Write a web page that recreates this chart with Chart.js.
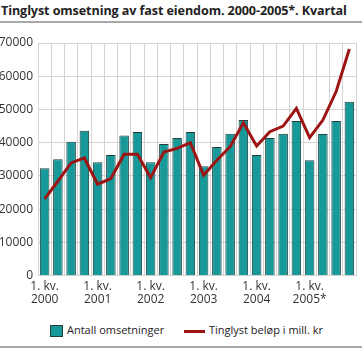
<!DOCTYPE html>
<html>
<head>
<meta charset="utf-8">
<script src="https://cdn.jsdelivr.net/npm/chart.js@4/dist/chart.umd.min.js"></script>
<style>
  body { margin: 0; width: 362px; height: 351px; background: #fff; font-family: "Open Sans", sans-serif; color: #222; overflow: hidden; }
  #title { position: absolute; left: 1px; top: 2px; font-weight: bold; font-size: 12.6px; white-space: nowrap; letter-spacing: -0.1px; }
  .rule { position: absolute; left: 0; width: 362px; height: 2px; background: #a8a8a8; }
  #chart { position: absolute; left: -4px; top: 26px; }
  #legend { position: absolute; top: 322px; left: 0; width: 362px; font-size: 11px; color: #222; }
  .item { position: absolute; top: 0; white-space: nowrap; }
  .box { position: absolute; top: 3px; width: 13px; height: 12px; background: #17999a; border: 1px solid #1f3f3f; box-sizing: border-box; }
  .ln { position: absolute; top: 8px; width: 21px; height: 3px; background: #9c1414; }
</style>
</head>
<body>
<div id="title">Tinglyst omsetning av fast eiendom. 2000-2005*. Kvartal</div>
<div class="rule" style="top:21px"></div>
<canvas id="chart" width="366" height="286"></canvas>
<div id="legend">
  <div class="item" style="left:50px"><span class="box"></span><span style="position:absolute;left:17px">Antall omsetninger</span></div>
  <div class="item" style="left:184px"><span class="ln"></span><span style="position:absolute;left:25px">Tinglyst beløp i mill. kr</span></div>
</div>
<div class="rule" style="top:346px"></div>
<script>
const years = ["2000", "2001", "2002", "2003", "2004", "2005*"];
const quarters = [1, 2, 3, 4];
const antallOmsetninger = [32300, 35000, 40300, 43600, 34100, 36300, 42200, 43200, 34100, 39600, 41400, 43200,
    32900, 38700, 42700, 46800, 36300, 41400, 42700, 46500, 34700, 42600, 46500, 52300];
const tinglystBelop = [23100, 28400, 33900, 35400, 27500, 29200, 36500, 36500, 29500, 37200, 38300, 40000,
    30200, 34700, 38800, 46000, 39000, 43300, 45000, 50300, 41500, 46800, 55400, 68200];
const yTicks = [0, 10000, 20000, 30000, 40000, 50000, 60000, 70000];

let labels = [];
years.forEach((y) => {
    quarters.forEach((q) => {
        labels.push(q + ". kv. " + y);
    });
});

const gridColor = "#d4d4d4";
const tickFont = { family: "Open Sans", size: 12, lineHeight: 1.1 };

function xLabel(index) {
    if (index % 4 === 0) {
        return ["1. kv.", years[index / 4]];
    }
    return "";
}

// year labels placed under the bars the chart actually drew
const xLabelPlugin = {
    id: "xLabels",
    afterDraw(chart) {
        const x = chart.scales.x;
        const bars = chart.getDatasetMeta(1).data;
        const ctx = chart.ctx;
        ctx.save();
        ctx.font = "12px 'Open Sans'";
        ctx.fillStyle = "#333";
        ctx.textAlign = "center";
        ctx.textBaseline = "top";
        bars.forEach((bar, i) => {
            const lines = xLabel(i);
            if (!lines) return;
            lines.forEach((t, j) => {
                ctx.fillText(t, bar.x, x.top + 5 + j * 13.2);
            });
        });
        ctx.restore();
    },
};

new Chart(document.getElementById("chart"), {
    type: "bar",
    data: {
        labels: labels,
        datasets: [
            {
                type: "line",
                label: "Tinglyst beløp i mill. kr",
                data: tinglystBelop,
                borderColor: "#9c1414",
                borderWidth: 3,
                pointRadius: 0,
                tension: 0,
                order: 0,
            },
            {
                type: "bar",
                label: "Antall omsetninger",
                data: antallOmsetninger,
                backgroundColor: "#17999a",
                borderColor: "#1f3f3f",
                borderWidth: 1,
                barPercentage: 0.72,
                categoryPercentage: 1,
                order: 1,
            },
        ],
    },
    plugins: [xLabelPlugin],
    options: {
        responsive: false,
        animation: false,
        layout: { padding: { left: 0, right: 6, top: 17, bottom: 0 } },
        plugins: {
            legend: { display: false },
            title: { display: false },
            tooltip: { enabled: false },
        },
        scales: {
            x: {
                offset: true,
                grid: { color: gridColor, drawTicks: false, offset: true },
                border: { color: gridColor },
                ticks: {
                    autoSkip: false,
                    maxRotation: 0,
                    padding: 5,
                    color: "rgba(0,0,0,0)",
                    font: tickFont,
                    callback: (value, index) => xLabel(index),
                },
            },
            y: {
                min: 0,
                max: 70000,
                afterBuildTicks: (axis) => {
                    axis.ticks = yTicks.map((v) => ({ value: v }));
                },
                afterFit: (axis) => {
                    axis.width = 42;
                },
                grid: { color: gridColor, drawTicks: false },
                border: { color: gridColor },
                ticks: {
                    padding: 5,
                    color: "#333",
                    font: tickFont,
                    callback: (v) => String(v),
                },
            },
        },
    },
});
</script>
</body>
</html>
